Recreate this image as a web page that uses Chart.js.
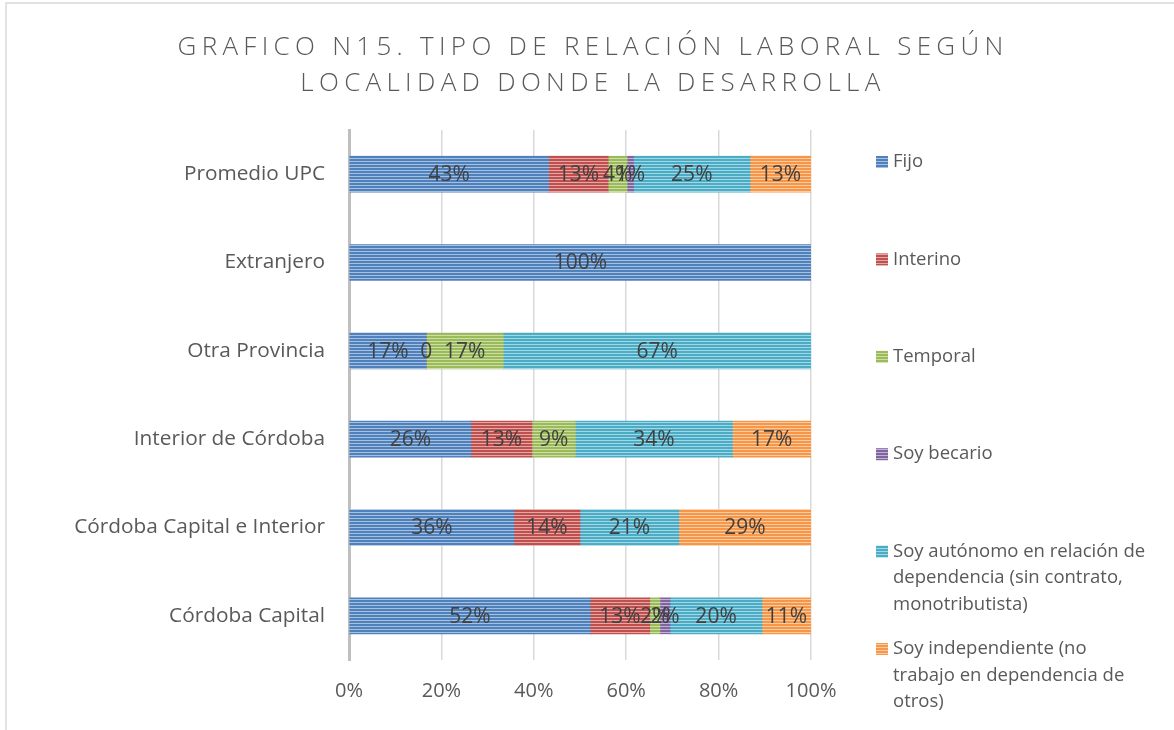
<!DOCTYPE html>
<html>
<head>
<meta charset="utf-8">
<script src="https://cdn.jsdelivr.net/npm/chart.js@4/dist/chart.umd.min.js"></script>
<style>
  body { margin: 0; background: #fff; }
  #wrap { width: 1174px; height: 730px; }
</style>
</head>
<body>
<div id="wrap"><canvas id="chart" width="1174" height="730"></canvas></div>
<script>
const categories = ['Promedio UPC', 'Extranjero', 'Otra Provincia', 'Interior de Córdoba', 'Córdoba Capital e Interior', 'Córdoba Capital'];
const seriesNames = ['Fijo', 'Interino', 'Temporal', 'Soy becario', 'Soy autónomo en relación de dependencia (sin contrato, monotributista)', 'Soy independiente (no trabajo en dependencia de otros)'];
const fijo = [43.2, 100, 16.7, 26.4, 35.7, 52.2];
const interino = [12.9, null, 0, 13.2, 14.3, 12.9];
const temporal = [4.1, null, 16.7, 9.4, null, 2.2];
const becario = [1.4, null, null, null, null, 2.2];
const autonomo = [25.2, null, 66.6, 34.0, 21.4, 19.9];
const independiente = [13.2, null, null, 17.0, 28.6, 10.6];
const xTicks = [0, 20, 40, 60, 80, 100];

const colors = ['#4F81BD', '#C0504D', '#9BBB59', '#8064A2', '#4BACC6', '#F79646'];
const legendLines = [
    ['Fijo'],
    ['Interino'],
    ['Temporal'],
    ['Soy becario'],
    ['Soy autónomo en relación de', 'dependencia (sin contrato,', 'monotributista)'],
    ['Soy independiente (no', 'trabajo en dependencia de', 'otros)']
];
const FONT = '"Open Sans", sans-serif';

function lighten(hex, amt) {
    const n = parseInt(hex.slice(1), 16);
    const r = (n >> 16) & 255, g = (n >> 8) & 255, b = n & 255;
    const mix = c => Math.round(c + (255 - c) * amt);
    return 'rgb(' + mix(r) + ',' + mix(g) + ',' + mix(b) + ')';
}

// horizontal stripes like the office "narrow horizontal" fill
function stripes(hex) {
    const c = document.createElement('canvas');
    c.width = 4; c.height = 3;
    const x = c.getContext('2d');
    x.fillStyle = hex;
    x.fillRect(0, 0, 4, 3);
    x.fillStyle = lighten(hex, 0.5);
    x.fillRect(0, 2, 4, 1);
    return x.createPattern(c, 'repeat');
}

const allData = [fijo, interino, temporal, becario, autonomo, independiente];
const patterns = colors.map(stripes);

const labelsPlugin = {
    id: 'extras',
    beforeDraw(chart) {
        const ctx = chart.ctx;
        ctx.save();
        ctx.fillStyle = '#fff';
        ctx.fillRect(0, 0, chart.width, chart.height);
        ctx.strokeStyle = '#D9D9D9';
        ctx.lineWidth = 1.5;
        ctx.strokeRect(6, 3, chart.width + 20, chart.height + 20);
        ctx.restore();
    },
    afterDatasetsDraw(chart) {
        const ctx = chart.ctx;
        ctx.save();
        ctx.font = '21px ' + FONT;
        ctx.fillStyle = '#404040';
        ctx.textAlign = 'center';
        ctx.textBaseline = 'middle';
        chart.data.datasets.forEach(function(ds, di) {
            const meta = chart.getDatasetMeta(di);
            meta.data.forEach(function(bar, i) {
                const v = ds.data[i];
                if (v === null || v === undefined) return;
                const txt = v === 0 ? '0' : Math.round(v) + '%';
                const cx = (bar.x + bar.base) / 2;
                ctx.fillText(txt, cx, bar.y + 1);
            });
        });
        ctx.restore();
    },
    afterDraw(chart) {
        const ctx = chart.ctx;
        ctx.save();
        // title
        ctx.font = '300 26px ' + FONT;
        ctx.fillStyle = '#595959';
        ctx.textAlign = 'center';
        ctx.textBaseline = 'middle';
        ctx.letterSpacing = '5.3px';
        ctx.fillText('GRAFICO N15. TIPO DE RELACIÓN LABORAL SEGÚN', 593, 48);
        ctx.fillText('LOCALIDAD DONDE LA DESARROLLA', 593, 84);
        ctx.letterSpacing = '0px';
        // legend
        ctx.font = '18.5px ' + FONT;
        ctx.textAlign = 'left';
        let y = 162;
        legendLines.forEach(function(lines, i) {
            ctx.fillStyle = patterns[i];
            ctx.fillRect(876, y - 6, 12, 12);
            ctx.fillStyle = '#595959';
            lines.forEach(function(t, k) {
                ctx.fillText(t, 893, y + k * 26.5);
            });
            y += 97.4;
        });
        ctx.restore();
    }
};

const chart = new Chart(document.getElementById('chart'), {
    type: 'bar',
    data: {
        labels: categories,
        datasets: allData.map(function(d, i) {
            return {
                label: seriesNames[i],
                data: d,
                backgroundColor: patterns[i],
                borderWidth: 0,
                barThickness: 36
            };
        })
    },
    options: {
        indexAxis: 'y',
        responsive: false,
        animation: false,
        layout: { padding: { top: 130, right: 363, left: 0, bottom: 0 } },
        plugins: {
            legend: { display: false },
            title: { display: false },
            tooltip: { enabled: false }
        },
        scales: {
            x: {
                stacked: true,
                min: 0,
                max: 100,
                afterBuildTicks: function(scale) {
                    scale.ticks = xTicks.map(v => ({ value: v }));
                },
                afterFit: function(scale) { scale.height = 70; },
                grid: { color: '#D9D9D9', lineWidth: 1.5, drawTicks: false },
                border: { display: false },
                ticks: {
                    padding: 19,
                    color: '#595959',
                    font: { size: 20, family: FONT },
                    callback: v => v + '%'
                }
            },
            y: {
                stacked: true,
                afterFit: function(scale) { scale.width = 349; },
                grid: { display: false, drawTicks: false },
                border: { display: true, color: '#BFBFBF', width: 3 },
                ticks: {
                    padding: 24,
                    color: '#595959',
                    font: { size: 20.8, family: FONT }
                }
            }
        }
    },
    plugins: [labelsPlugin]
});
</script>
</body>
</html>
